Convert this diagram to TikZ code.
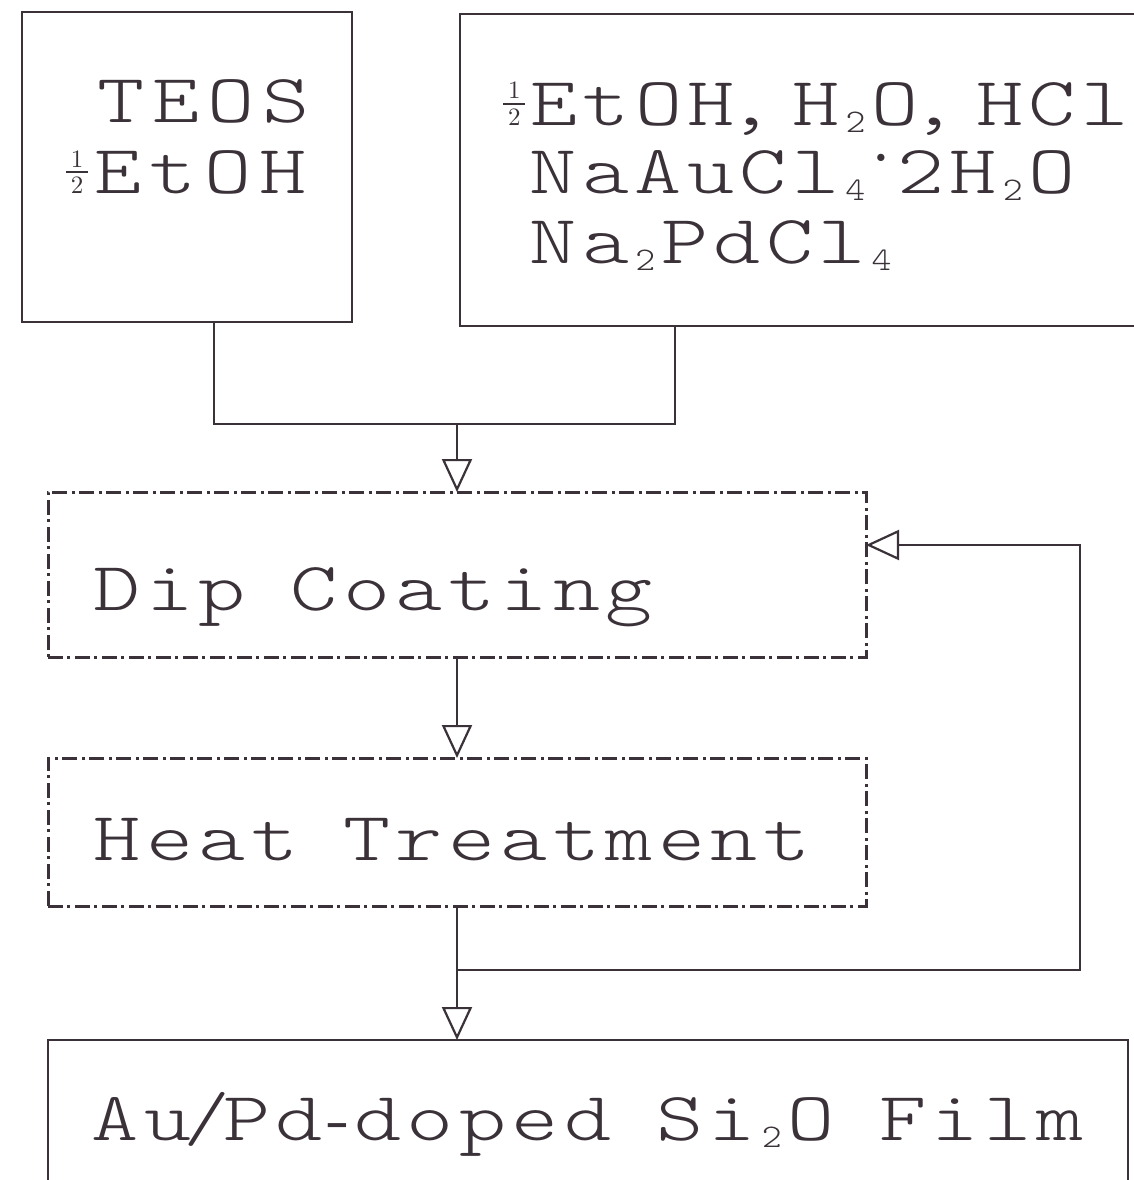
\documentclass[tikz,border=0pt]{standalone}
\usepackage{fontspec}
\usepackage{graphicx}
\usetikzlibrary{arrows.meta,calc}
\newfontfamily\labfont{lmmonolt10-regular.otf}
\newfontfamily\romfont{lmroman10-regular.otf}
\definecolor{ink}{HTML}{3A3238}
\newlength\cw
\setlength\cw{52.5pt}
\newcommand\gl[1]{\makebox[\cw][c]{\scalebox{1.3}[1]{#1}}}
\newcommand\hg[1]{\makebox[0.5\cw][c]{\scalebox{1.3}[1]{#1}}}
\newcommand\sub[1]{\makebox[0.5\cw][c]{\raisebox{-7pt}{\scalebox{1.15}[1]{\fontsize{33}{33}\selectfont #1}}}}
\newcommand\spc{\hspace*{0.75\cw}}
\def\mono#1{\monoloop#1\relax}
\def\monoloop#1{\ifx#1\relax\else\gl{#1}\expandafter\monoloop\fi}
\newcommand\hlf{\makebox[0.5\cw][c]{\romfont\fontsize{25}{25}\selectfont\rlap{\raisebox{26pt}{\makebox[22pt][c]{1}}}\rlap{\raisebox{20pt}{\rule{22pt}{1.7pt}}}\makebox[22pt][c]{2}}}
\newcommand\hyph{\makebox[0.5\cw][c]{\romfont -}}
\begin{document}
\begin{tikzpicture}[x=1pt,y=-1pt,line width=2.5pt,color=ink,
  box/.style={draw,rectangle,inner sep=0pt,outer sep=0pt,anchor=north west},
  dbox/.style={box,dash pattern=on 15pt off 4pt on 3pt off 5pt,line width=3pt},
  txt/.style={anchor=base west,inner sep=0pt,font=\labfont\fontsize{69}{69}\selectfont},
  arr/.style={-{Triangle[open,length=33pt,width=30pt]},line width=2.2pt}]
\useasboundingbox (0,0) rectangle (1134,1180);
\fill[white] (0,0) rectangle (1134,1180);
\clip (0,0) rectangle (1134,1180);
% boxes
\node[box,minimum width=330pt,minimum height=310pt] (A) at (22,12) {};
\node[box,minimum width=690pt,minimum height=312pt] (B) at (460,14) {};
\node[dbox,minimum width=818pt,minimum height=165pt] (D) at (48,492) {};
\node[dbox,minimum width=818pt,minimum height=148pt] (H) at (48,758) {};
\node[box,minimum width=1080pt,minimum height=200pt] (F) at (48,1040) {};
% texts
\node[txt] (tA1) at (92,123) {\setlength\cw{55pt}\mono{TEOS}};
\node[txt] (tA2) at (62,193) {\setlength\cw{55pt}\hlf\mono{EtOH}};
\node[txt] (tB1) at (500,125) {\hlf\mono{EtOH}\hg{,}\hg{\ }\mono{H}\sub{2}\mono{O}\hg{,}\hg{\ }\mono{HCl}};
\node[txt] (tB2) at (526,193) {\mono{NaAuCl}\sub{4}\makebox[0.5\cw][c]{\raisebox{12pt}{\romfont ·}}\mono{2H}\sub{2}\mono{O}};
\node[txt] (tB3) at (526,263) {\mono{Na}\sub{2}\mono{PdCl}\sub{4}};
\node[txt] (tD) at (90,610) {\mono{Dip}\spc\mono{Coating}};
\node[txt] (tH) at (90,860) {\mono{Heat}\spc\mono{Treatment}};
\node[txt] (tF) at (88,1140) {\mono{Au}\hg{/}\mono{Pd}\hyph\mono{doped}\spc\mono{Si}\sub{2}\mono{O}\spc\mono{Film}};
% connectors
\coordinate (a1) at ($(A.south)+(27,0)$);
\coordinate (b1) at ($(B.south west)+(215,0)$);
\coordinate (J) at (457,424);
\draw (a1) -- (a1 |- J) -- (b1 |- J) -- (b1);
\draw[arr] (J) -- (D.north);
\draw[arr] (D.south) -- (H.north);
\draw[arr] (H.south) -- (H.south |- F.north);
\coordinate (K) at (457,970);
\coordinate (R) at (1080,970);
\coordinate (Din) at ($(D.east)+(0,-29.5)$);
\draw[arr] (K) -- (R) |- (Din);
\end{tikzpicture}
\end{document}
